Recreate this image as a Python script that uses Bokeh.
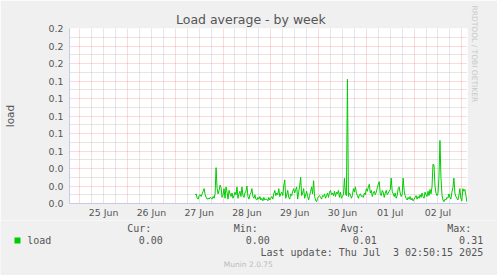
import math
import pandas as pd
from bokeh.plotting import figure
from bokeh.layouts import column
from bokeh.models import (FixedTicker, PrintfTickFormatter, DatetimeTickFormatter, Label,
                          BoxAnnotation, Range1d, ColumnDataSource, Title)
from bokeh.embed import file_html
from bokeh.resources import INLINE

# ---------------- data ----------------
title_text = "Load average - by week"
y_axis_label = "load"
series_name = "load"
series_start = "2025-06-27 10:00"
load_values = [
    0.010, 0.011, 0.006, 0.005, 0.009, 0.010, 0.008, 0.011, 0.014, 0.017, 0.010, 0.007,
    0.005, 0.006, 0.005, 0.007, 0.006, 0.005, 0.008, 0.006, 0.011, 0.041, 0.017, 0.011,
    0.015, 0.021, 0.018, 0.007, 0.010, 0.017, 0.006, 0.019, 0.013, 0.005, 0.015, 0.011,
    0.008, 0.012, 0.006, 0.009, 0.013, 0.010, 0.019, 0.006, 0.011, 0.014, 0.008, 0.019,
    0.009, 0.007, 0.012, 0.014, 0.020, 0.008, 0.005, 0.010, 0.012, 0.017, 0.008, 0.006,
    0.010, 0.005, 0.004, 0.007, 0.005, 0.008, 0.004, 0.006, 0.003, 0.007, 0.004, 0.005,
    0.005, 0.003, 0.007, 0.004, 0.006, 0.008, 0.005, 0.011, 0.015, 0.009, 0.012, 0.010,
    0.017, 0.008, 0.011, 0.013, 0.009, 0.020, 0.027, 0.006, 0.010, 0.015, 0.007, 0.005,
    0.011, 0.009, 0.014, 0.017, 0.012, 0.016, 0.019, 0.005, 0.013, 0.020, 0.030, 0.009,
    0.012, 0.017, 0.006, 0.010, 0.014, 0.008, 0.004, 0.009, 0.014, 0.019, 0.011, 0.026,
    0.008, 0.004, 0.002, 0.006, 0.008, 0.009, 0.007, 0.005, 0.009, 0.008, 0.011, 0.006,
    0.009, 0.012, 0.007, 0.013, 0.015, 0.010, 0.012, 0.009, 0.014, 0.008, 0.013, 0.011,
    0.015, 0.007, 0.013, 0.006, 0.008, 0.010, 0.029, 0.011, 0.009, 0.142, 0.008, 0.012,
    0.010, 0.006, 0.009, 0.017, 0.013, 0.019, 0.012, 0.009, 0.006, 0.010, 0.011, 0.008,
    0.009, 0.007, 0.012, 0.010, 0.017, 0.014, 0.019, 0.022, 0.012, 0.015, 0.008, 0.012,
    0.014, 0.010, 0.013, 0.018, 0.022, 0.025, 0.011, 0.009, 0.015, 0.013, 0.007, 0.012,
    0.015, 0.010, 0.012, 0.014, 0.016, 0.029, 0.014, 0.011, 0.008, 0.012, 0.006, 0.009,
    0.017, 0.019, 0.012, 0.008, 0.010, 0.029, 0.015, 0.009, 0.006, 0.004, 0.007, 0.005,
    0.008, 0.004, 0.006, 0.003, 0.005, 0.007, 0.009, 0.005, 0.008, 0.006, 0.010, 0.007,
    0.012, 0.008, 0.006, 0.013, 0.010, 0.008, 0.014, 0.009, 0.016, 0.011, 0.019, 0.045,
    0.044, 0.020, 0.012, 0.009, 0.011, 0.030, 0.072, 0.030, 0.010, 0.004, 0.002, 0.005,
    0.004, 0.007, 0.006, 0.011, 0.007, 0.005, 0.013, 0.018, 0.029, 0.012, 0.008, 0.006,
    0.004, 0.009, 0.017, 0.006, 0.003, 0.017, 0.014, 0.016, 0.010, 0.002,
]
x_start = "2025-06-24 18:50:15"
x_end = "2025-07-03 02:50:15"
y_ticks = [0.0, 0.02, 0.04, 0.06, 0.08, 0.10, 0.12, 0.14, 0.16, 0.18, 0.20]
y_minor_ticks = [0.01, 0.03, 0.05, 0.07, 0.09, 0.11, 0.13, 0.15, 0.17, 0.19]
day_lines = ["2025-06-25", "2025-06-26", "2025-06-27", "2025-06-28", "2025-06-29",
             "2025-06-30", "2025-07-01", "2025-07-02", "2025-07-03"]
label_days = ["2025-06-25 12:00", "2025-06-26 12:00", "2025-06-27 12:00", "2025-06-28 12:00",
              "2025-06-29 12:00", "2025-06-30 12:00", "2025-07-01 12:00", "2025-07-02 12:00"]
tick_labels = ["25 Jun", "26 Jun", "27 Jun", "28 Jun", "29 Jun", "30 Jun", "01 Jul", "02 Jul"]
stat_headers = ["Cur:", "Min:", "Avg:", "Max:"]
stat_values = ["0.00", "0.00", "0.01", "0.31"]
last_update = "Last update: Thu Jul  3 02:50:15 2025"
credit = "Munin 2.0.75"
side_text = "RRDTOOL / TOBI OETIKER"


def ms(t):
    return pd.Timestamp(t).value / 1e6


times = pd.date_range(series_start, periods=len(load_values), freq="30min")
src = ColumnDataSource(dict(t=times, v=load_values))

six_hour = [ms(t) for t in pd.date_range("2025-06-24 18:00", x_end, freq="6h")
            if t.hour != 0 and ms(t) >= ms(x_start)]

# ---------------- main chart ----------------
W = 497
L, R, T, B = 67, 30, 28, 17
H1 = 220
BG = "#f0f0f0"
font = "DejaVu Sans"
mono = "DejaVu Sans Mono"
txt = "#555555"
axis_col = "#c8c8e8"

p = figure(width=W, height=H1, x_axis_type="datetime", output_backend="svg",
           toolbar_location=None,
           x_range=Range1d(ms(x_start), ms(x_end)), y_range=Range1d(0, 0.2),
           min_border_left=L, min_border_right=R, min_border_top=T, min_border_bottom=B)
p.border_fill_color = BG
p.background_fill_color = "#ffffff"
p.outline_line_color = None

p.title.text = title_text
p.title.align = "left"
p.title.offset = 173.5 - L
p.title.text_font = font
p.title.text_font_size = "12.5px"
p.title.text_font_style = "normal"
p.title.text_color = txt
p.title.vertical_align = "bottom"
p.title.standoff = 3

p.yaxis.ticker = FixedTicker(ticks=y_ticks)
p.yaxis.formatter = PrintfTickFormatter(format="%.1f")
p.xaxis.ticker = FixedTicker(ticks=[ms(t) for t in label_days])
p.xaxis.major_label_overrides = {ms(t): lab for t, lab in zip(label_days, tick_labels)}
p.xaxis.formatter = DatetimeTickFormatter(days="%d %b", hours="%d %b", months="%d %b")
for ax in (p.xaxis, p.yaxis):
    ax.major_tick_in = 0
    ax.major_tick_out = 0
    ax.minor_tick_in = 0
    ax.minor_tick_out = 0
    ax.axis_line_color = axis_col
    ax.major_label_text_font = font
    ax.major_label_text_font_size = "9.4px"
    ax.major_label_text_color = txt
p.yaxis.major_label_standoff = 6
p.xaxis.major_label_standoff = 3
p.yaxis.axis_label = y_axis_label
p.yaxis.axis_label_text_font = font
p.yaxis.axis_label_text_font_size = "10.5px"
p.yaxis.axis_label_text_font_style = "normal"
p.yaxis.axis_label_text_color = txt
p.yaxis.axis_label_standoff = 30

p.xgrid.ticker = FixedTicker(ticks=[ms(t) for t in day_lines], minor_ticks=six_hour)
p.ygrid.ticker = FixedTicker(ticks=y_ticks[1:], minor_ticks=y_minor_ticks)
for g in (p.xgrid, p.ygrid):
    g.grid_line_color = "#ff0000"
    g.grid_line_alpha = 0.3
    g.grid_line_dash = "1 1"
    g.minor_grid_line_color = "#c8c8c8"
    g.minor_grid_line_alpha = 0.9
    g.minor_grid_line_dash = "1 1"

p.line("t", "v", source=src, line_color="#00cc00", line_width=1)

p.add_layout(Title(text=side_text, align="left", offset=-23, vertical_align="top", standoff=0,
                   text_font=font, text_font_size="7.5px", text_font_style="normal",
                   text_color="#c8c8c8"), "right")

# ---------------- legend strip ----------------
H2 = 275 - H1
q = figure(width=W, height=H2, output_backend="svg", toolbar_location=None,
           x_axis_location=None, y_axis_location=None,
           x_range=Range1d(0, W), y_range=Range1d(0, H2),
           min_border_left=0, min_border_right=0, min_border_top=0, min_border_bottom=0)
q.border_fill_color = BG
q.background_fill_color = BG
q.outline_line_color = None
q.xgrid.visible = False
q.ygrid.visible = False
for fig in (p, q):
    if "frame_align" in fig.properties():
        fig.frame_align = False


def lab(text, X, Y, size, color=txt, f=mono, align="left"):
    q.add_layout(Label(x=X, y=H2 - (Y - H1), x_units="screen", y_units="screen",
                       text=text.replace("  ", " \u00a0"), text_font=f, text_font_size=size,
                       text_color=color, text_align=align, text_baseline="middle"))


q.add_layout(BoxAnnotation(left=14, right=20, bottom=H2 - (243 - H1), top=H2 - (237 - H1),
                           left_units="screen", right_units="screen",
                           bottom_units="screen", top_units="screen",
                           fill_color="#00cc00", fill_alpha=1.0, line_color=None))
lab(series_name, 26.7, 239.7, "10px")
for hx, h in zip([126.7, 233.3, 340.0, 446.7], stat_headers):
    lab(h, hx, 227.8, "10px")
for vx, v in zip([162.3, 269.3, 376.3, 482.7], stat_values):
    lab(v, vx, 239.7, "10px", align="right")
lab(last_update, 482.7, 251.7, "10px", align="right")
lab(credit, 247.8, 264, "7.5px", color="#bbbbbb", f=font, align="center")

layout = column(p, q, spacing=0)
open("out.html", "w").write(file_html(layout, INLINE))
